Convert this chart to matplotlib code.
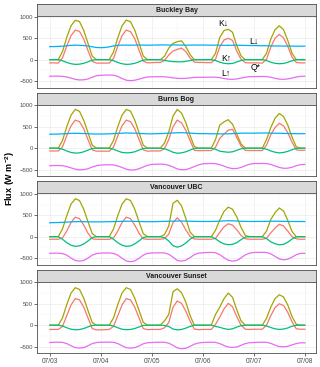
import numpy as np
import matplotlib
matplotlib.use("Agg")
import matplotlib.pyplot as plt

plt.rcParams['font.family'] = ['Liberation Sans', 'DejaVu Sans']
plt.rcParams['mathtext.fontset'] = 'custom'
plt.rcParams['mathtext.rm'] = 'Liberation Sans'
plt.rcParams['mathtext.bf'] = 'Liberation Sans:bold'

# time in days since 07/03 00:00, every 2 hours
hours = list(range(0, 121, 2))
date_labels = ['07/03', '07/04', '07/05', '07/06', '07/07', '07/08']
sites = ['Buckley Bay', 'Burns Bog', 'Vancouver UBC', 'Vancouver Sunset']

# ---- Buckley Bay
bb_kdn = [0, 0, 0, 190, 520, 790, 920, 890, 680, 380, 80, 0,
          0, 0, 0, 180, 510, 790, 925, 885, 690, 390, 85, 0,
          0, 0, 0, 80, 270, 380, 420, 440, 310, 120, 0, 0,
          0, 0, 0, 150, 520, 680, 710, 640, 330, 90, 0, 0,
          0, 0, 0, 150, 480, 700, 790, 700, 450, 150, 0, 0,
          0]
bb_qs = [-75, -75, -80, 40, 320, 560, 690, 660, 480, 210, -40, -80,
         -80, -80, -80, 30, 310, 560, 690, 655, 490, 220, -35, -75,
         -70, -65, -65, -20, 110, 200, 240, 270, 190, 40, -55, -65,
         -65, -70, -70, 10, 300, 460, 500, 450, 200, 10, -70, -75,
         -75, -75, -80, 10, 290, 500, 590, 510, 310, 60, -65, -75,
         -75]
bb_kup = [0, 0, 0, -25, -65, -95, -110, -105, -85, -50, -10, 0,
          0, 0, 0, -25, -65, -95, -110, -105, -85, -50, -10, 0,
          0, 0, 0, -15, -35, -45, -50, -50, -40, -20, 0, 0,
          0, 0, 0, -20, -60, -85, -95, -88, -55, -20, 0, 0,
          0, 0, 0, -20, -60, -85, -95, -88, -62, -25, 0, 0,
          0]
bb_ldn = [305, 305, 310, 315, 325, 335, 340, 335, 330, 320, 300, 285,
          280, 285, 300, 320, 335, 340, 340, 338, 340, 342, 340, 338,
          340, 342, 345, 345, 340, 345, 342, 340, 338, 340, 342, 340,
          342, 340, 338, 340, 338, 335, 335, 336, 338, 335, 333, 330,
          330, 328, 325, 325, 322, 320, 320, 318, 318, 316, 315, 315,
          315]
bb_lup = [-388, -385, -385, -390, -405, -430, -460, -474, -470, -450, -410, -375,
          -365, -360, -358, -362, -390, -440, -480, -490, -480, -455, -425, -405,
          -400, -398, -398, -400, -410, -425, -435, -440, -435, -425, -415, -412,
          -412, -410, -408, -410, -420, -440, -455, -460, -450, -430, -410, -398,
          -396, -394, -392, -395, -410, -435, -455, -458, -450, -430, -405, -390,
          -388]

# ---- Burns Bog
bg_kdn = [0, 0, 0, 180, 500, 770, 905, 860, 650, 360, 70, 0,
          0, 0, 0, 180, 500, 770, 905, 865, 655, 365, 70, 0,
          0, 0, 0, 120, 380, 750, 905, 820, 600, 300, 40, 0,
          0, 0, 0, 200, 540, 615, 665, 560, 330, 100, 0, 0,
          0, 0, 0, 200, 480, 700, 810, 740, 540, 260, 30, 0,
          0]
bg_qs = [-65, -65, -65, 30, 290, 520, 655, 620, 450, 200, -40, -70,
         -70, -70, -70, 25, 285, 520, 655, 620, 455, 205, -40, -70,
         -65, -65, -65, -10, 200, 500, 655, 590, 420, 180, -50, -60,
         -55, -55, -55, 20, 230, 330, 420, 440, 250, 50, -50, -55,
         -55, -55, -55, 70, 310, 480, 580, 520, 360, 140, -40, -50,
         -50]
bg_kup = [0, 0, 0, -25, -65, -100, -115, -110, -85, -45, -8, 0,
          0, 0, 0, -25, -65, -100, -110, -105, -85, -45, -8, 0,
          0, 0, 0, -15, -50, -95, -118, -110, -85, -45, -6, 0,
          0, 0, 0, -25, -70, -85, -95, -85, -50, -15, 0, 0,
          0, 0, 0, -25, -65, -95, -110, -100, -75, -35, -4, 0,
          0]
bg_ldn = [325, 328, 330, 335, 340, 345, 348, 345, 342, 338, 332, 330,
          330, 332, 335, 340, 345, 350, 355, 352, 350, 345, 340, 335,
          335, 338, 340, 345, 350, 355, 360, 362, 358, 352, 345, 340,
          340, 338, 336, 335, 334, 333, 335, 340, 345, 350, 352, 350,
          350, 352, 355, 355, 352, 350, 348, 345, 342, 340, 338, 338,
          338]
bg_lup = [-410, -405, -405, -410, -430, -460, -490, -505, -500, -480, -440, -410,
          -395, -390, -388, -392, -415, -450, -490, -510, -505, -480, -440, -400,
          -380, -375, -372, -378, -400, -440, -485, -505, -500, -470, -430, -390,
          -365, -360, -358, -362, -385, -420, -455, -478, -475, -450, -410, -375,
          -360, -358, -356, -360, -380, -415, -450, -470, -468, -445, -410, -385,
          -380]

# ---- Vancouver UBC
ubc_kdn = [0, 0, 0, 180, 490, 760, 885, 845, 640, 350, 70, 0,
           0, 0, 0, 180, 490, 760, 885, 845, 640, 350, 70, 0,
           0, 0, 0, 50, 250, 780, 850, 720, 430, 110, 0, 0,
           0, 0, 0, 150, 390, 590, 690, 640, 460, 220, 30, 0,
           0, 0, 0, 130, 400, 560, 670, 600, 380, 120, 0, 0,
           0]
ubc_qs = [-60, -60, -60, -30, 130, 330, 455, 420, 270, 80, -50, -62,
          -62, -62, -62, -30, 130, 330, 455, 420, 270, 80, -50, -62,
          -60, -60, -60, -45, 60, 330, 440, 340, 160, 10, -55, -60,
          -60, -60, -60, -40, 100, 230, 300, 270, 160, 30, -50, -60,
          -60, -60, -60, -40, 90, 200, 290, 250, 130, 0, -50, -60,
          -60]
ubc_kup = [0, 0, 0, -60, -140, -200, -225, -215, -170, -100, -20, 0,
           0, 0, 0, -60, -140, -200, -225, -215, -170, -100, -20, 0,
           0, 0, 0, -25, -100, -210, -245, -215, -150, -60, 0, 0,
           0, 0, 0, -50, -120, -170, -187, -180, -140, -70, -10, 0,
           0, 0, 0, -45, -120, -165, -190, -180, -130, -55, 0, 0,
           0]
ubc_ldn = [325, 328, 330, 335, 340, 345, 350, 352, 350, 348, 345, 345,
           345, 348, 350, 352, 355, 358, 360, 360, 358, 355, 352, 350,
           350, 352, 355, 358, 360, 362, 365, 365, 362, 360, 358, 356,
           355, 355, 356, 358, 362, 368, 372, 370, 365, 360, 358, 355,
           355, 356, 356, 358, 360, 362, 360, 358, 356, 355, 354, 354,
           354]
ubc_lup = [-390, -385, -385, -395, -430, -500, -555, -570, -555, -500, -430, -395,
           -385, -380, -380, -390, -430, -505, -565, -585, -565, -505, -430, -390,
           -380, -378, -376, -380, -410, -480, -555, -570, -550, -490, -420, -385,
           -375, -370, -368, -375, -420, -490, -550, -570, -555, -495, -425, -385,
           -370, -365, -365, -370, -400, -460, -520, -540, -525, -480, -420, -390,
           -390]

# ---- Vancouver Sunset (no incoming longwave)
vs_kdn = [0, 0, 0, 170, 480, 750, 875, 835, 630, 340, 60, 0,
          0, 0, 0, 170, 480, 750, 875, 835, 630, 345, 65, 0,
          0, 0, 0, 100, 250, 780, 850, 760, 540, 230, 0, 0,
          0, 0, 0, 250, 420, 620, 750, 650, 360, 100, 0, 0,
          0, 0, 0, 160, 420, 620, 710, 660, 470, 200, 20, 0,
          0]
vs_qs = [-100, -100, -100, -30, 220, 470, 620, 590, 420, 170, -80, -110,
         -110, -105, -100, -30, 220, 470, 620, 590, 420, 170, -80, -105,
         -100, -100, -100, -60, 60, 420, 565, 510, 330, 100, -90, -105,
         -100, -100, -100, 20, 190, 380, 510, 430, 200, 0, -95, -100,
         -95, -95, -95, 0, 220, 410, 500, 460, 300, 80, -85, -95,
         -95]
vs_kup = [0, 0, 0, -20, -60, -95, -108, -102, -78, -40, -6, 0,
          0, 0, 0, -20, -60, -95, -105, -100, -78, -42, -6, 0,
          0, 0, 0, -8, -30, -90, -110, -100, -70, -30, 0, 0,
          0, 0, 0, -30, -50, -80, -100, -85, -45, -12, 0, 0,
          0, 0, 0, -20, -55, -85, -100, -90, -65, -25, -3, 0,
          0]
vs_lup = [-405, -400, -398, -402, -430, -480, -525, -535, -525, -480, -430, -405,
          -400, -398, -396, -400, -430, -480, -525, -536, -525, -485, -435, -410,
          -405, -400, -398, -400, -420, -470, -530, -552, -540, -495, -445, -415,
          -405, -400, -398, -402, -430, -475, -510, -520, -510, -470, -430, -410,
          -405, -400, -398, -400, -425, -465, -500, -505, -495, -460, -430, -412,
          -412]

site_series = [
    [bb_kdn, bb_qs, bb_kup, bb_ldn, bb_lup],
    [bg_kdn, bg_qs, bg_kup, bg_ldn, bg_lup],
    [ubc_kdn, ubc_qs, ubc_kup, ubc_ldn, ubc_lup],
    [vs_kdn, vs_qs, vs_kup, None, vs_lup],
]
colors = ['#A3A500', '#F8766D', '#00BF7D', '#00B0F6', '#E76BF3']

# labels in first panel: text, day, value
lbl_text = ['K\u2193', 'L\u2193', 'K\u2191', 'Q*', 'L\u2191']
lbl_x = [3.41, 4.0, 3.47, 4.03, 3.46]
lbl_y = [846, 427, 39, -179, -319]

W, H = 320, 367
fig = plt.figure(figsize=(W / 100, H / 100), dpi=100)
t = np.array(hours) / 24.0
left, right = 37, 316
border = '#4D4D4D'

for i, site in enumerate(sites):
    top = 4 + i * 88.5
    sb = top + 12
    pb = sb + 71.5
    sax = fig.add_axes([left / W, 1 - sb / H, (right - left) / W, 12 / H])
    sax.set_facecolor('#D9D9D9')
    sax.set_xticks([])
    sax.set_yticks([])
    for s in sax.spines.values():
        s.set_color(border)
        s.set_linewidth(0.6)
    sax.text(0.5, 0.45, site, ha='center', va='center', fontsize=5,
             fontweight='bold', color='#1A1A1A', transform=sax.transAxes)

    ax = fig.add_axes([left / W, 1 - pb / H, (right - left) / W, 71.5 / H])
    for s in ax.spines.values():
        s.set_color(border)
        s.set_linewidth(0.6)
    ax.set_xlim(-0.25, 5.22)
    ax.set_ylim(-650, 1020)
    ax.set_xticks(range(6))
    ax.set_xticks(np.arange(0.5, 5, 1), minor=True)
    ax.set_yticks([-500, 0, 500, 1000])
    ax.set_yticks([-250, 250, 750], minor=True)
    ax.grid(which='major', color='#EBEBEB', lw=0.5)
    ax.grid(which='minor', color='#F2F2F2', lw=0.3)
    ax.set_axisbelow(True)
    ax.tick_params(which='major', length=2, width=0.5, color='#333333',
                   labelsize=4.3, labelcolor='#4D4D4D', pad=1)
    ax.tick_params(which='minor', length=0)
    if i == 3:
        ax.set_xticklabels(date_labels)
        ax.tick_params(axis='x', labelsize=4.8, pad=1.5)
    else:
        ax.tick_params(axis='x', labelbottom=False, length=0)

    for series, c in zip(site_series[i], colors):
        if series is None:
            continue
        ax.plot(t, series, color=c, lw=0.9)

    if i == 0:
        for txt, x, y in zip(lbl_text, lbl_x, lbl_y):
            ax.text(x, y, txt, ha='center', va='center', fontsize=6.2,
                    color='black')

fig.text(10 / W, 1 - 178 / H, r'Flux (W m$^{\mathbf{-2}}$)', rotation=90,
         ha='center', va='center', fontsize=6.5, fontweight='bold')

fig.savefig('out.png', dpi=100)
